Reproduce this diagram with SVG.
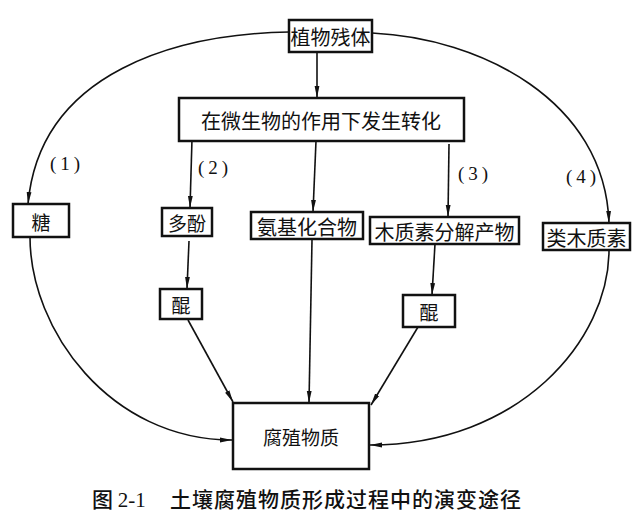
<svg xmlns="http://www.w3.org/2000/svg" width="640" height="529" viewBox="0 0 640 529">
<style>
.box{fill:#fff;stroke:#111;stroke-width:2.5}
.t{font-family:"Noto Sans CJK SC","Noto Sans CJK JP",sans-serif;font-size:19px;fill:#111;text-anchor:middle;dominant-baseline:central}
.c{fill:none;stroke:#111;stroke-width:1.6}
.lbl{font-family:"Liberation Serif",serif;font-size:19px;fill:#111;letter-spacing:4px}
.cap{font-family:"Noto Sans CJK SC",sans-serif;font-size:21px;fill:#111;font-weight:500}
</style>
<defs>
<marker id="ah" markerUnits="userSpaceOnUse" markerWidth="12" markerHeight="6" refX="12" refY="3" orient="auto">
<path d="M0,0.6 L12,3 L0,5.4 z" fill="#111"/>
</marker>
</defs>
<rect width="640" height="529" fill="#fff"/>
<g id="connectors">
<path class="c" d="M289,32 C180,34 40,70 28,204" marker-end="url(#ah)"/>
<path class="c" d="M30,237 C30,330 110,440 232,440" marker-end="url(#ah)"/>
<path class="c" d="M372,33 C480,38 605,100 609,223" marker-end="url(#ah)"/>
<path class="c" d="M609,250 C609,340 520,445 370,445" marker-end="url(#ah)"/>
<path class="c" d="M317,52 L317,98" marker-end="url(#ah)"/>
<path class="c" d="M192,139 L190,208" marker-end="url(#ah)"/>
<path class="c" d="M316,141 L313,212" marker-end="url(#ah)"/>
<path class="c" d="M449,144 L448,217" marker-end="url(#ah)"/>
<path class="c" d="M189,241 L187,289" marker-end="url(#ah)"/>
<path class="c" d="M188,320 L233,402" marker-end="url(#ah)"/>
<path class="c" d="M312,240 L309,403" marker-end="url(#ah)"/>
<path class="c" d="M435,244 L432,295" marker-end="url(#ah)"/>
<path class="c" d="M418,327 L371,405" marker-end="url(#ah)"/>
</g>
<g id="n-residue"><rect class="box" x="289" y="20" width="83" height="32"/><text class="t" x="330.5" y="36" style="font-size:20px">植物残体</text></g>
<g id="n-micro"><rect class="box" x="179" y="98" width="285" height="43"/><text class="t" x="321" y="120" style="font-size:20px">在微生物的作用下发生转化</text></g>
<g id="n-sugar"><rect class="box" x="13" y="204" width="56" height="33"/><text class="t" x="41" y="221">糖</text></g>
<g id="n-polyphenol"><rect class="box" x="162" y="208" width="50" height="28"/><text class="t" x="187" y="222">多酚</text></g>
<g id="n-quinone1"><rect class="box" x="160" y="289" width="42" height="30"/><text class="t" x="181" y="304">醌</text></g>
<g id="n-amino"><rect class="box" x="251" y="212" width="112" height="27"/><text class="t" x="307" y="226" style="font-size:20px">氨基化合物</text></g>
<g id="n-lignindeg"><rect class="box" x="370" y="217" width="149" height="27"/><text class="t" x="444.5" y="231" style="font-size:20px">木质素分解产物</text></g>
<g id="n-ligninlike"><rect class="box" x="543" y="223" width="87" height="27"/><text class="t" x="586.5" y="237" style="font-size:20px">类木质素</text></g>
<g id="n-quinone2"><rect class="box" x="403" y="295" width="52" height="32"/><text class="t" x="429" y="311">醌</text></g>
<g id="n-humus"><rect class="box" x="233" y="403" width="136" height="66"/><text class="t" x="301" y="436">腐殖物质</text></g>
<g id="labels">
<text class="lbl" x="50" y="170">(1)</text>
<text class="lbl" x="198" y="174">(2)</text>
<text class="lbl" x="458" y="180">(3)</text>
<text class="lbl" x="566" y="183">(4)</text>
</g>
<g id="caption">
<text class="cap" x="92" y="507">图 <tspan font-family="Liberation Serif" font-weight="normal">2-1</tspan></text>
<text class="cap" x="170" y="507" letter-spacing="1">土壤腐殖物质形成过程中的演变途径</text>
</g>
</svg>
